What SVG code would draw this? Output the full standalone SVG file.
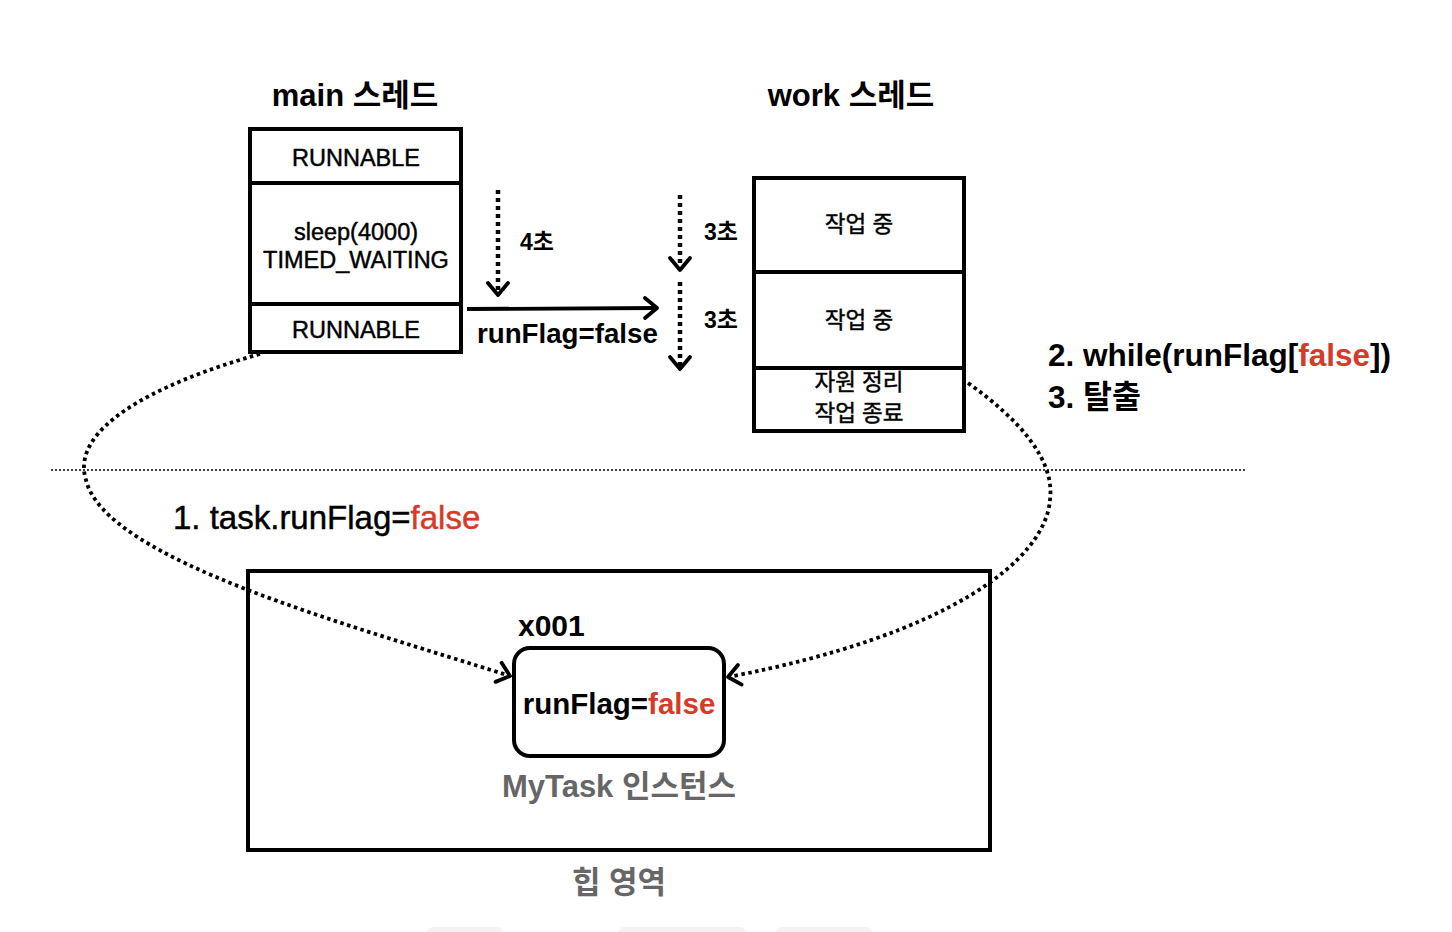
<svg xmlns="http://www.w3.org/2000/svg" width="1452" height="932" viewBox="0 0 1452 932">
<style>
text{font-family:"Liberation Sans","Noto Sans CJK KR",sans-serif;fill:#000}
.b{font-weight:bold}
.m{stroke:#000;stroke-width:0.45}
.box{fill:#fff;stroke:#000;stroke-width:4}
.div{stroke:#000;stroke-width:4}
.dot{fill:none;stroke:#000;stroke-width:3.8;stroke-dasharray:3.5 3.5}
.vdot{fill:none;stroke:#000;stroke-width:4.5;stroke-dasharray:4 4}
.gray{fill:#666}
.red{fill:#d63b2a}
</style>
<defs>
<marker id="chev" markerUnits="userSpaceOnUse" markerWidth="26" markerHeight="26" viewBox="0 0 26 26" refX="22" refY="13" orient="auto">
<path d="M10,3 L22,13 L10,23" fill="none" stroke="#000" stroke-width="3.8" stroke-dasharray="none" stroke-linecap="round" stroke-linejoin="round"/>
</marker>
</defs>
<rect width="1452" height="932" fill="#fff"/>
<g id="faint">
<rect x="427" y="927" width="76" height="12" rx="6" fill="#f3f3f3"/>
<rect x="618" y="927" width="128" height="12" rx="6" fill="#f3f3f3"/>
<rect x="776" y="927" width="96" height="12" rx="6" fill="#f3f3f3"/>
</g>
<line x1="51" y1="470" x2="1246" y2="470" stroke="#000" stroke-width="1.3" stroke-dasharray="2 2"/>
<g id="main-thread">
<text x="355" y="106" text-anchor="middle" class="b" font-size="31">main 스레드</text>
<rect class="box" x="250" y="129" width="211" height="223"/>
<line class="div" x1="250" y1="183" x2="461" y2="183"/>
<line class="div" x1="250" y1="304" x2="461" y2="304"/>
<text x="356" y="166" text-anchor="middle" class="m" font-size="23.5">RUNNABLE</text>
<text x="356" y="240" text-anchor="middle" class="m" font-size="23.5">sleep(4000)</text>
<text x="356" y="268" text-anchor="middle" class="m" font-size="23.5">TIMED_WAITING</text>
<text x="356" y="338" text-anchor="middle" class="m" font-size="23.5">RUNNABLE</text>
</g>
<g id="work-thread">
<text x="851" y="106" text-anchor="middle" class="b" font-size="31">work 스레드</text>
<rect class="box" x="754" y="178" width="210" height="253"/>
<line class="div" x1="754" y1="272" x2="964" y2="272"/>
<line class="div" x1="754" y1="368" x2="964" y2="368"/>
<text x="859" y="232" text-anchor="middle" class="m" font-size="22.5">작업 중</text>
<text x="859" y="328" text-anchor="middle" class="m" font-size="22.5">작업 중</text>
<text x="859" y="390" text-anchor="middle" class="m" font-size="22.5">자원 정리</text>
<text x="859" y="421" text-anchor="middle" class="m" font-size="22.5">작업 종료</text>
</g>
<g id="heap">
<rect class="box" x="248" y="571" width="742" height="279" fill="none"/>
<text x="518" y="636" class="b" font-size="30">x001</text>
<rect x="514" y="648" width="210" height="108" rx="16" fill="#fff" stroke="#000" stroke-width="4"/>
<text x="619" y="714" text-anchor="middle" class="b" font-size="29.5">runFlag=<tspan class="red">false</tspan></text>
<text x="619" y="797" text-anchor="middle" class="b gray" font-size="31">MyTask 인스턴스</text>
<text x="619" y="893" text-anchor="middle" class="b gray" font-size="31">힙 영역</text>
</g>
<g id="labels">
<text x="520" y="250" class="b" font-size="23">4초</text>
<text x="704" y="240" class="b" font-size="23">3초</text>
<text x="704" y="328" class="b" font-size="23">3초</text>
<text x="477" y="343" class="b" font-size="27.7">runFlag=false</text>
<text x="1048" y="366" class="b" font-size="31.5">2. while(runFlag[<tspan class="red">false</tspan>])</text>
<text x="1048" y="408" class="b" font-size="31.5">3. 탈출</text>
<text x="173" y="529" class="m" font-size="33">1. task.runFlag=<tspan class="red" stroke="#d63b2a">false</tspan></text>
</g>
<g id="connectors">
<path class="vdot" d="M498,190 L498,295" marker-end="url(#chev)"/>
<path class="vdot" d="M680,195 L680,270" marker-end="url(#chev)"/>
<path class="vdot" d="M680,282 L680,369" marker-end="url(#chev)"/>
<path d="M467,309 L657,308" fill="none" stroke="#000" stroke-width="3.8" marker-end="url(#chev)"/>
<path class="dot" d="M260,354 C150,385 70,430 86,480 C105,560 350,625 510,676" marker-end="url(#chev)"/>
<path class="dot" d="M968,383 C1020,420 1055,460 1050,500 C1045,560 950,635 728,677" marker-end="url(#chev)"/>
</g>
</svg>
